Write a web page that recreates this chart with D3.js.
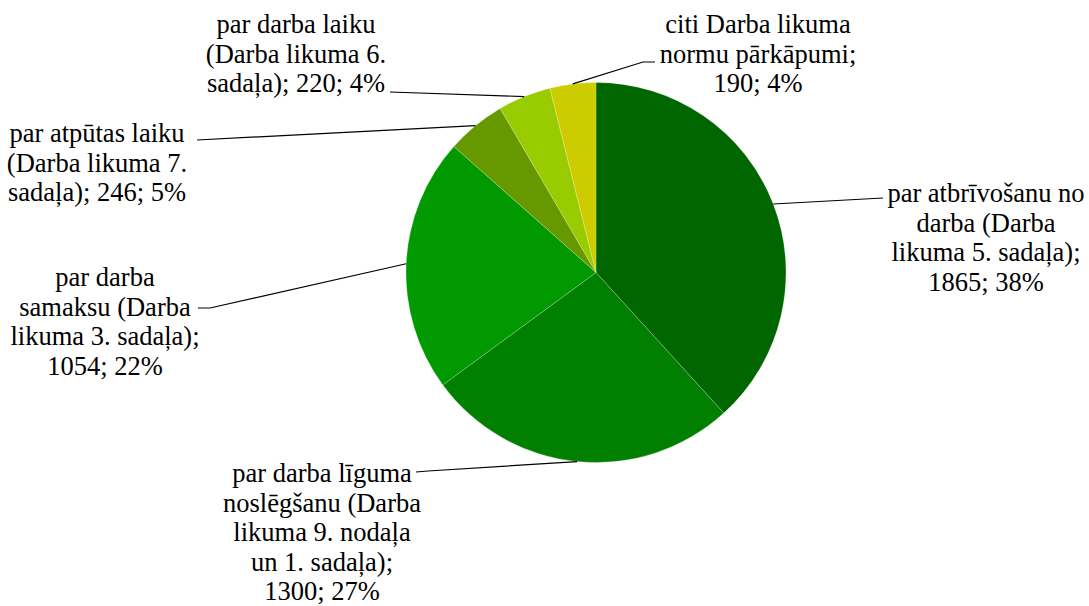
<!DOCTYPE html>
<html>
<head>
<meta charset="utf-8">
<script src="https://cdn.jsdelivr.net/npm/d3@7"></script>
<style>
  html, body { margin: 0; padding: 0; background: #fff; }
  svg { display: block; }
  .lbl { font-family: "Liberation Serif", "Times New Roman", Tinos, "DejaVu Serif", serif; }
</style>
</head>
<body>
<svg id="pie" width="1089" height="606"></svg>
<script>
// data (clockwise from 12 o'clock)
const categories = [
  "par atbrīvošanu no\ndarba (Darba\nlikuma 5. sadaļa)",
  "par darba līguma\nnoslēgšanu (Darba\nlikuma 9. nodaļa\nun 1. sadaļa)",
  "par darba\nsamaksu (Darba\nlikuma 3. sadaļa)",
  "par atpūtas laiku\n(Darba likuma 7.\nsadaļa)",
  "par darba laiku\n(Darba likuma 6.\nsadaļa)",
  "citi Darba likuma\nnormu pārkāpumi"
];
const values = [1865, 1300, 1054, 246, 220, 190];
const percents = [38, 27, 22, 5, 4, 4];
// separator between name and value in the label ("\n" = value on its own line)
const valueBreaks = [";\n", ";\n", ";\n", "; ", "; ", ";\n"];

const colors = ["#006600", "#007f00", "#009900", "#669900", "#99cc00", "#cccc00"];

// layout
const cx = 596, cy = 272.5, radius = 190;
const fontSize = 26.5, lineHeight = 29.5;
// label anchor: centre x, first baseline y
const labelPos = [[986, 202], [322, 482], [105, 286], [97, 142], [296, 33], [758, 33]];
// leader points from the label side, toward the pie rim
const leaderPts = [
  [[883, 198]],
  [[416, 472], [428, 471]],
  [[198, 308], [210, 308]],
  [[197, 140]],
  [[390, 92]],
  [[655, 62], [643, 62]]
];

const svg = d3.select("#pie");

const pie = d3.pie().sort(null).value(d => d);
const arcs = pie(values);

const arc = d3.arc().innerRadius(0).outerRadius(radius);
const rim = d3.arc().innerRadius(radius).outerRadius(radius);

const g = svg.append("g").attr("transform", `translate(${cx},${cy})`);

g.selectAll("path.slice")
  .data(arcs)
  .join("path")
  .attr("class", "slice")
  .attr("d", arc)
  .attr("fill", (d, i) => colors[i])
  .attr("stroke", "#ffffff")
  .attr("stroke-opacity", 0.35)
  .attr("stroke-width", 0.6);

// leader lines
const line = d3.line();
arcs.forEach((d, i) => {
  const c = rim.centroid(d);
  const pts = leaderPts[i].concat([[c[0] + cx, c[1] + cy]]);
  svg.append("path")
    .attr("d", line(pts))
    .attr("fill", "none")
    .attr("stroke", "#000")
    .attr("stroke-width", 1.2);
});

// labels
categories.forEach((name, i) => {
  const text = name + valueBreaks[i] + values[i] + "; " + percents[i] + "%";
  const lines = text.split("\n");
  const t = svg.append("text")
    .attr("class", "lbl")
    .attr("x", labelPos[i][0])
    .attr("y", labelPos[i][1])
    .attr("text-anchor", "middle")
    .attr("font-size", fontSize)
    .attr("fill", "#000");
  t.selectAll("tspan")
    .data(lines)
    .join("tspan")
    .attr("x", labelPos[i][0])
    .attr("y", (l, j) => labelPos[i][1] + j * lineHeight)
    .text(l => l);
});
</script>
</body>
</html>
